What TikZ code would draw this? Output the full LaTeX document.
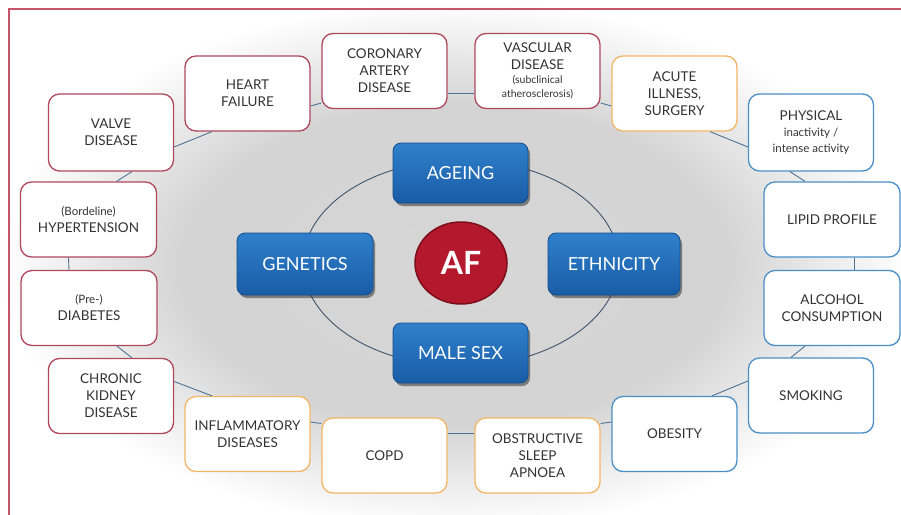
\documentclass[tikz,border=0pt]{standalone}
\usepackage{fontspec}
\setmainfont{Lato}
\usetikzlibrary{shadows,shapes.geometric}
\definecolor{framec}{HTML}{C8546A}
\definecolor{rb}{HTML}{B0485E}
\definecolor{ob}{HTML}{F2B666}
\definecolor{bb}{HTML}{4A8FC6}
\definecolor{lnk}{HTML}{4F7394}
\definecolor{ringc}{HTML}{3F5670}
\definecolor{txt}{HTML}{333333}
\definecolor{btop}{HTML}{2F80CC}
\definecolor{bbot}{HTML}{1A5CA6}
\definecolor{bdark}{HTML}{134E8A}
\definecolor{afred}{HTML}{B3182C}
\definecolor{afdark}{HTML}{7D0F1C}
\pgfdeclareradialshading{glow}{\pgfpoint{0bp}{0bp}}{color(0bp)=(black!16); color(15bp)=(black!17); color(25bp)=(white); color(50bp)=(white)}
\begin{document}
\begin{tikzpicture}[x=1pt,y=-1pt,
  box/.style={draw, line width=1.3pt, rounded corners=11pt, fill=white,
    minimum width=125pt, minimum height=75pt, inner sep=0pt, align=center,
    text=txt, font=\fontsize{13.5}{17}\selectfont},
  redbox/.style={box, draw=rb},
  orbox/.style={box, draw=ob},
  blbox/.style={box, draw=bb},
  widebox/.style={minimum width=136pt},
  cbox/.style={rounded corners=8pt, draw=bdark, line width=0.8pt,
    top color=btop, bottom color=bbot, minimum width=135pt, minimum height=60pt,
    inner sep=0pt, text=white, font=\fontsize{18}{20}\selectfont,
    drop shadow={shadow xshift=2pt, shadow yshift=-3pt, opacity=0.55, fill=black!80}},
  link/.style={draw=lnk, line width=0.9pt},
  ring/.style={draw=ringc, line width=0.9pt}
]
\useasboundingbox (0,0) rectangle (901,514);
\fill[white] (0,0) rectangle (901,514);
\shade[shading=glow] (455,265) ellipse [x radius=455, y radius=265];
\draw[framec, line width=1.6pt] (9,530) -- (9,9) -- (920,9);

% central nodes
\node[ellipse, minimum width=92pt, minimum height=82pt, fill=afred, draw=afdark,
  line width=1.5pt, text=white, font=\fontsize{32}{36}\selectfont\bfseries, inner sep=0pt] (af) at (461,263) {AF};
\draw[ring] (af.center) ellipse [x radius=158, y radius=103];
\node[cbox] (ageing) at (460.5,173) {AGEING};
\node[cbox, minimum width=136pt, minimum height=62pt] (genetics) at (305,264) {GENETICS};
\node[cbox, minimum width=132pt, minimum height=62pt] (ethnicity) at (614,264) {ETHNICITY};
\node[cbox] (male) at (460.5,353) {MALE SEX};

% outer nodes
\node[redbox] (hf) at (247.5,93.5) {HEART\\FAILURE};
\node[redbox] (cad) at (384.5,71) {CORONARY\\ARTERY\\DISEASE};
\node[redbox] (vasc) at (537.5,71) {VASCULAR\\DISEASE\\[-3pt]{\fontsize{10.5}{12}\selectfont (subclinical}\\[-3.5pt]{\fontsize{10.5}{12}\selectfont atherosclerosis)}};
\node[orbox] (acute) at (674.5,93.5) {ACUTE\\ILLNESS,\\SURGERY};
\node[redbox, minimum height=77pt] (valve) at (111,132.5) {VALVE\\DISEASE};
\node[blbox, minimum height=77pt] (phys) at (811,132.5) {PHYSICAL\\[-1pt]{\fontsize{11.5}{14}\selectfont inactivity /}\\[-1pt]{\fontsize{11.5}{14}\selectfont intense activity}};
\node[redbox, widebox] (hyp) at (88.5,219.5) {{\fontsize{11.5}{14}\selectfont (Bordeline)}\\HYPERTENSION};
\node[blbox, widebox] (lipid) at (832,219.5) {LIPID PROFILE};
\node[redbox, widebox] (diab) at (89,308) {{\fontsize{11.5}{14}\selectfont (Pre-)}\\DIABETES};
\node[blbox, widebox] (alc) at (832,308) {ALCOHOL\\CONSUMPTION};
\node[redbox] (ckd) at (111,396) {CHRONIC\\KIDNEY\\DISEASE};
\node[blbox] (smok) at (811,395.5) {SMOKING};
\node[orbox] (infl) at (247.5,434) {INFLAMMATORY\\DISEASES};
\node[blbox] (obes) at (674.5,434) {OBESITY};
\node[orbox] (copd) at (384.5,455.5) {COPD};
\node[orbox] (osa) at (537.5,455.5) {OBSTRUCTIVE\\SLEEP\\APNOEA};

% outer ring connectors
\path[link] ([xshift=28pt]hyp.north) -- ([xshift=21pt]valve.south);
\path[link] ([yshift=-14.5pt]valve.east) -- ([xshift=-35.5pt]hf.south);
\path[link] ([yshift=-12.5pt]hf.east) -- ([yshift=-32pt]cad.west);
\path[link] ([yshift=-22pt]cad.east) -- ([yshift=-22pt]vasc.west);
\path[link] ([yshift=-32pt]vasc.east) -- ([yshift=-12.5pt]acute.west);
\path[link] ([xshift=35.5pt]acute.south) -- ([yshift=-14.5pt]phys.west);
\path[link] ([xshift=-21pt]phys.south) -- ([xshift=-27pt]lipid.north);
\path[link] ([xshift=22pt]lipid.south) -- ([xshift=22pt]alc.north);
\path[link] ([xshift=-27pt]alc.south) -- ([xshift=-20pt]smok.north);
\path[link] ([yshift=14.5pt]smok.west) -- ([xshift=37.5pt]obes.north);
\path[link] ([yshift=12pt]obes.west) -- ([yshift=32pt]osa.east);
\path[link] ([yshift=22pt]osa.west) -- ([yshift=22pt]copd.east);
\path[link] ([yshift=32pt]copd.west) -- ([yshift=12pt]infl.east);
\path[link] ([xshift=-35.5pt]infl.north) -- ([yshift=14.5pt]ckd.east);
\path[link] ([xshift=21pt]ckd.north) -- ([xshift=28pt]diab.south);
\path[link] ([xshift=-20pt]diab.north) -- ([xshift=-20pt]hyp.south);
\end{tikzpicture}
\end{document}
